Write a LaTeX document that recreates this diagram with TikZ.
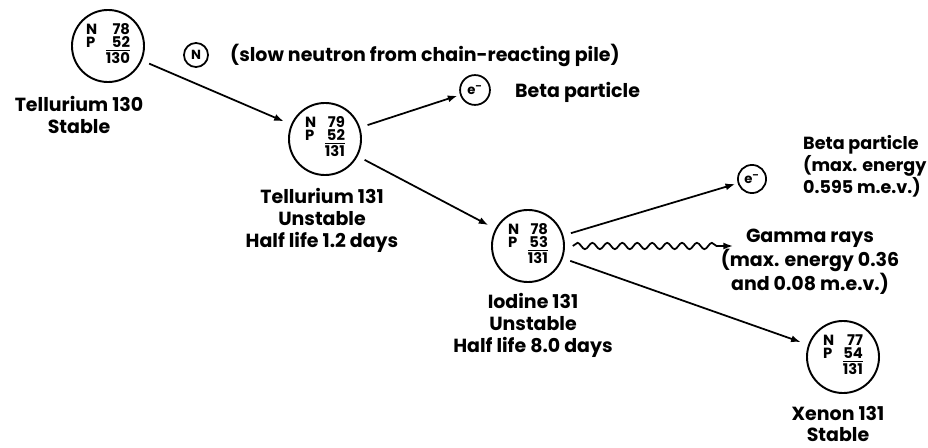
\documentclass[tikz,border=0pt]{standalone}
\usepackage{fontspec}
\setmainfont{Poppins}
\usetikzlibrary{arrows.meta,decorations.pathmorphing}

% nucleus: neutrons, protons, mass number
\newcommand{\nucl}[3]{\begin{tabular}{@{}l@{\hspace{5pt}}r@{}}N&#1\\[-1.5pt]P&\underline{#2}\\[-2pt]&$\overline{\hbox{#3}}$\end{tabular}}

\begin{document}
\begin{tikzpicture}[x=0.02cm,y=-0.02cm,
  nucleus/.style={circle,draw,line width=1.1pt,minimum size=41pt,inner sep=0pt,outer sep=5pt,font=\fontsize{8.4}{8.8}\selectfont\bfseries},
  particle/.style={circle,draw,line width=1pt,inner sep=0pt,outer sep=2pt,font=\fontsize{7.5}{8}\selectfont\bfseries},
  caption/.style={align=center,font=\fontsize{10.8}{12.5}\selectfont\bfseries},
  decay/.style={-{Latex[length=5.5pt,width=4pt]},line width=1pt},
  gamma/.style={decay,decorate,decoration={snake,amplitude=1.8pt,segment length=8.5pt,post length=7pt}}]
  \useasboundingbox (0,0) rectangle (928,448);
  % nuclei
  \node[nucleus] (te130) at (108,46) {\nucl{78}{52}{130}};
  \node[nucleus] (te131) at (325,139) {\nucl{79}{52}{131}};
  \node[nucleus] (i131) at (528,246) {\nucl{78}{53}{131}};
  \node[nucleus] (xe131) at (843,357) {\nucl{77}{54}{131}};
  % particles
  \node[particle,minimum size=13.7pt] (neutron) at (196,55) {N};
  \node[particle,minimum size=17pt] (beta1) at (475,90) {e\textsuperscript{--}};
  \node[particle,minimum size=16pt] (beta2) at (752,179) {e\textsuperscript{--}};
  \coordinate (gend) at (733,246);
  % captions
  \node[caption] (te130lbl) at (79,115) {Tellurium 130\\Stable};
  \node[caption] (te131lbl) at (322,220) {Tellurium 131\\Unstable\\Half life 1.2 days};
  \node[caption] (i131lbl) at (533,325) {Iodine 131\\Unstable\\Half life 8.0 days};
  \node[caption] (xe131lbl) at (838,424) {Xenon 131\\Stable};
  \node[caption,anchor=west] (neutronlbl) at (224,55) {(slow neutron from chain-reacting pile)};
  \node[caption,anchor=west] (beta1lbl) at (509,92) {Beta particle};
  \node[caption,anchor=west,align=left,font=\fontsize{10}{12.5}\selectfont\bfseries] (beta2lbl) at (797,166) {Beta particle\\(max. energy\\0.595 m.e.v.)};
  \node[caption] (gammalbl) at (810,262) {Gamma rays\\(max. energy 0.36\\and 0.08 m.e.v.)};
  % decays
  \draw[decay] (te130) -- (te131);
  \draw[decay] (te131) -- (beta1);
  \draw[decay] (te131) -- (i131);
  \draw[decay] (i131) -- (beta2);
  \draw[gamma] (i131) -- (gend);
  \draw[decay] (i131) -- (xe131);
\end{tikzpicture}
\end{document}
